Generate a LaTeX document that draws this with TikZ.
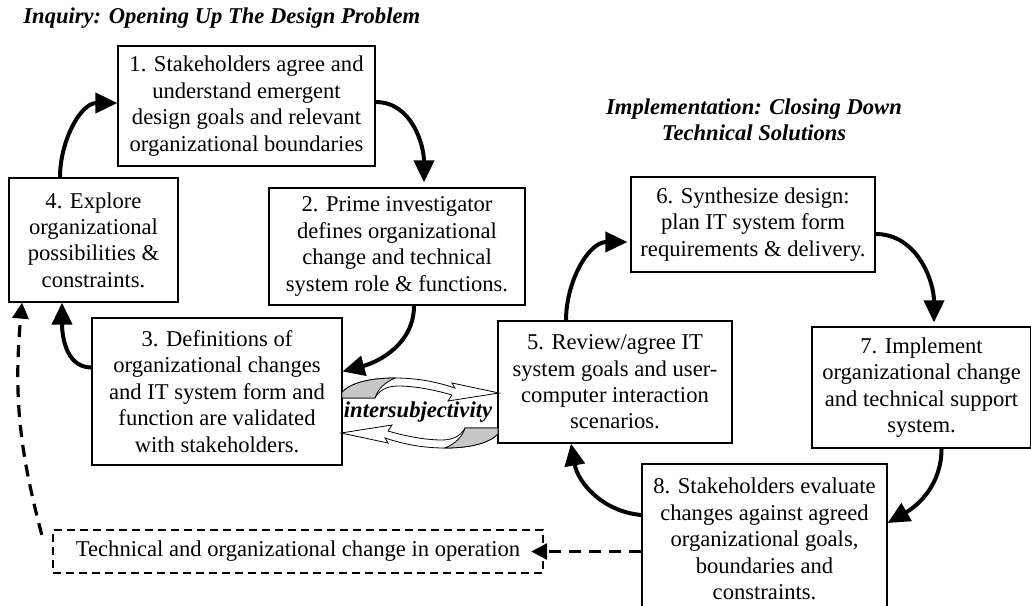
\documentclass[tikz,border=0pt]{standalone}
\usepackage{fontspec}
\setmainfont{Liberation Serif}
\usetikzlibrary{arrows.meta}

\begin{document}
\begin{tikzpicture}[x=0.5pt, y=-0.5pt,
            font = \fontsize{11.3}{13.2}\selectfont,
            every node/.style = {align=center, inner sep=0pt},
            stage/.style = {draw, line width=0.6pt},
            heading/.style = {font=\fontsize{11.3}{13.2}\selectfont\bfseries\itshape},
            flow/.style = {line width=2pt, -{Triangle[length=11pt, width=10pt]}},
            feedback/.style = {line width=1.6pt, dash pattern=on 6pt off 4pt, -{Triangle[length=8pt, width=8pt]}},
            ribbon/.style = {draw, line width=0.4pt}]
            \useasboundingbox (0,0) rectangle (1031,605);

            \node[heading, anchor=west] (inquiry) at (23,18) {Inquiry: Opening Up The Design Problem};
            \node[heading] (implementation) at (754,120) {Implementation: Closing Down\\Technical Solutions};

            \node[stage, minimum width=128.5pt, minimum height=60pt] (s1) at (246.5,106)
                {1. Stakeholders agree and\\understand emergent\\design goals and relevant\\organizational boundaries};
            \node[stage, minimum width=128pt, minimum height=58.5pt] (s2) at (397,246.5)
                {2. Prime investigator\\defines organizational\\change and technical\\system role \& functions.};
            \node[stage, minimum width=125pt, minimum height=73.5pt] (s3) at (217,391.5)
                {3. Definitions of\\organizational changes\\and IT system form and\\function are validated\\with stakeholders.};
            \node[stage, minimum width=84.5pt, minimum height=62pt] (s4) at (93.5,240)
                {4. Explore\\organizational\\possibilities \&\\constraints.};
            \node[stage, minimum width=117pt, minimum height=61pt] (s5) at (615,382)
                {5. Review/agree IT\\system goals and user-\\computer interaction\\scenarios.};
            \node[stage, minimum width=122pt, minimum height=47.5pt] (s6) at (753,224.5)
                {6. Synthesize design:\\plan IT system form\\requirements \& delivery.};
            \node[stage, minimum width=109.5pt, minimum height=60.5pt] (s7) at (921.5,387.5)
                {7. Implement\\organizational change\\and technical support\\system.};
            \node[stage, minimum width=122.5pt, minimum height=75pt] (s8) at (764.5,539)
                {8. Stakeholders evaluate\\changes against agreed\\organizational goals,\\boundaries and\\constraints.};
            \node[draw, line width=1.2pt, dash pattern=on 4pt off 2.5pt, minimum width=245pt, minimum height=21.5pt] (op) at (298,551.5)
                {Technical and organizational change in operation};

            \draw[flow] ([xshift=-16.75pt]s4.north) to[out=90, in=180] ([yshift=1.5pt]s1.west);
            \draw[flow] ([yshift=2pt]s1.east) to[out=0, in=90] ([xshift=13.5pt, yshift=2.5pt]s2.north);
            \draw[flow] ([xshift=8.5pt]s2.south) to[out=-90, in=15] ([yshift=10pt]s3.east);
            \draw[flow] ([yshift=12pt]s3.west) to[out=180, in=-90] ([xshift=-15.75pt]s4.south);
            \draw[flow] ([xshift=-24.5pt]s5.north) to[out=90, in=180] ([xshift=-1.5pt, yshift=-8.75pt]s6.west);
            \draw[flow] ([yshift=-4.75pt]s6.east) to[out=0, in=90] ([xshift=6.25pt, yshift=2pt]s7.north);
            \draw[flow] ([xshift=10pt]s7.south) to[out=-90, in=30] ([yshift=8pt]s8.east);
            \draw[flow] ([yshift=12pt]s8.west) to[out=175, in=-80] ([xshift=-22pt]s5.south);

            \draw[feedback] (s8.west |- op.east) -- ([xshift=-6.5pt]op.east);
            \draw[feedback] ([xshift=-5pt, yshift=-3pt]op.north west) to[bend left=10] ([xshift=-35.75pt]s4.south);

            \foreach \turn in {0,180} {
                \begin{scope}[rotate around={\turn:(420,413)}]
                    \path[ribbon, fill=white] (342,392) .. controls (352,382) and (372,378) .. (395,378)
                        .. controls (420,378) and (440,383) .. (455,388) -- (452,383) -- (499,393) -- (448,401) -- (452,395)
                        .. controls (435,390) and (415,386) .. (398,386) .. controls (385,386) and (378,392) .. (375,398)
                        -- (342,398) -- cycle;
                    \path[ribbon, fill=black!22] (342,392) .. controls (352,382) and (372,378) .. (395,378)
                        .. controls (383,383) and (377,391) .. (375,398) -- (342,398) -- cycle;
                \end{scope}
            }
            \node[heading] (intersubjectivity) at (418,412) {intersubjectivity};
        \end{tikzpicture}
\end{document}
